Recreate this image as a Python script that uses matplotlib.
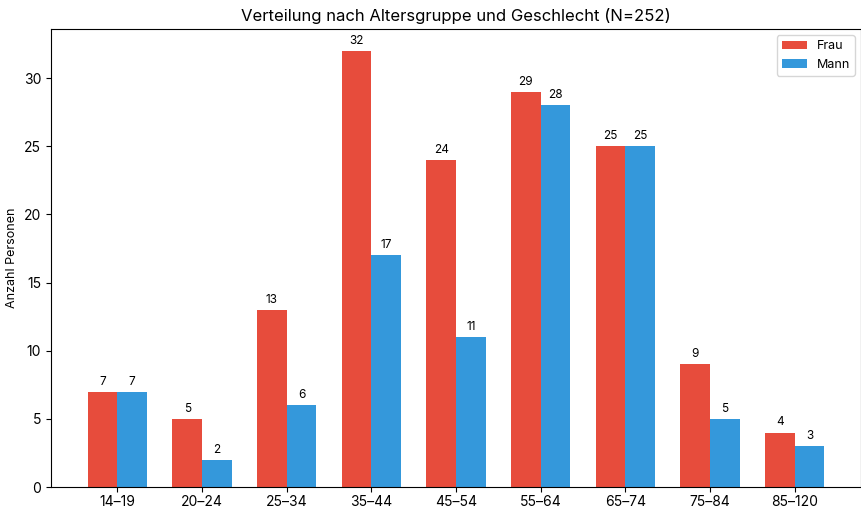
import numpy as np
import matplotlib
matplotlib.use("Agg")
import matplotlib.pyplot as plt

plt.rcParams["font.family"] = ["Inter", "DejaVu Sans"]

# age groups and counts per gender
groups = ["14-19", "20-24", "25-34", "35-44", "45-54", "55-64", "65-74", "75-84", "85-120"]
frau = [7, 5, 13, 32, 24, 29, 25, 9, 4]
mann = [7, 2, 6, 17, 11, 28, 25, 5, 3]

x = np.arange(len(groups))
w = 0.35

fig, ax = plt.subplots(figsize=(8.62, 5.09), dpi=100)
b1 = ax.bar(x - w / 2, frau, w, color="#e74c3c", label="Frau")
b2 = ax.bar(x + w / 2, mann, w, color="#3498db", label="Mann")
ax.bar_label(b1, padding=3, fontsize=8.5)
ax.bar_label(b2, padding=3, fontsize=8.5)

ax.set_xticks(x)
ax.set_xticklabels([g.replace("-", "\u2013") for g in groups], fontsize=10)
ax.tick_params(axis="x", pad=2.5)
ax.tick_params(axis="y", labelsize=10)
ax.set_ylabel("Anzahl Personen", fontsize=9)
ax.set_title("Verteilung nach Altersgruppe und Geschlecht (N=252)", fontsize=12)
ax.legend(loc="upper right", fontsize=9)

fig.subplots_adjust(left=0.059, right=0.999, top=0.943, bottom=0.043)
fig.savefig("out.png")
